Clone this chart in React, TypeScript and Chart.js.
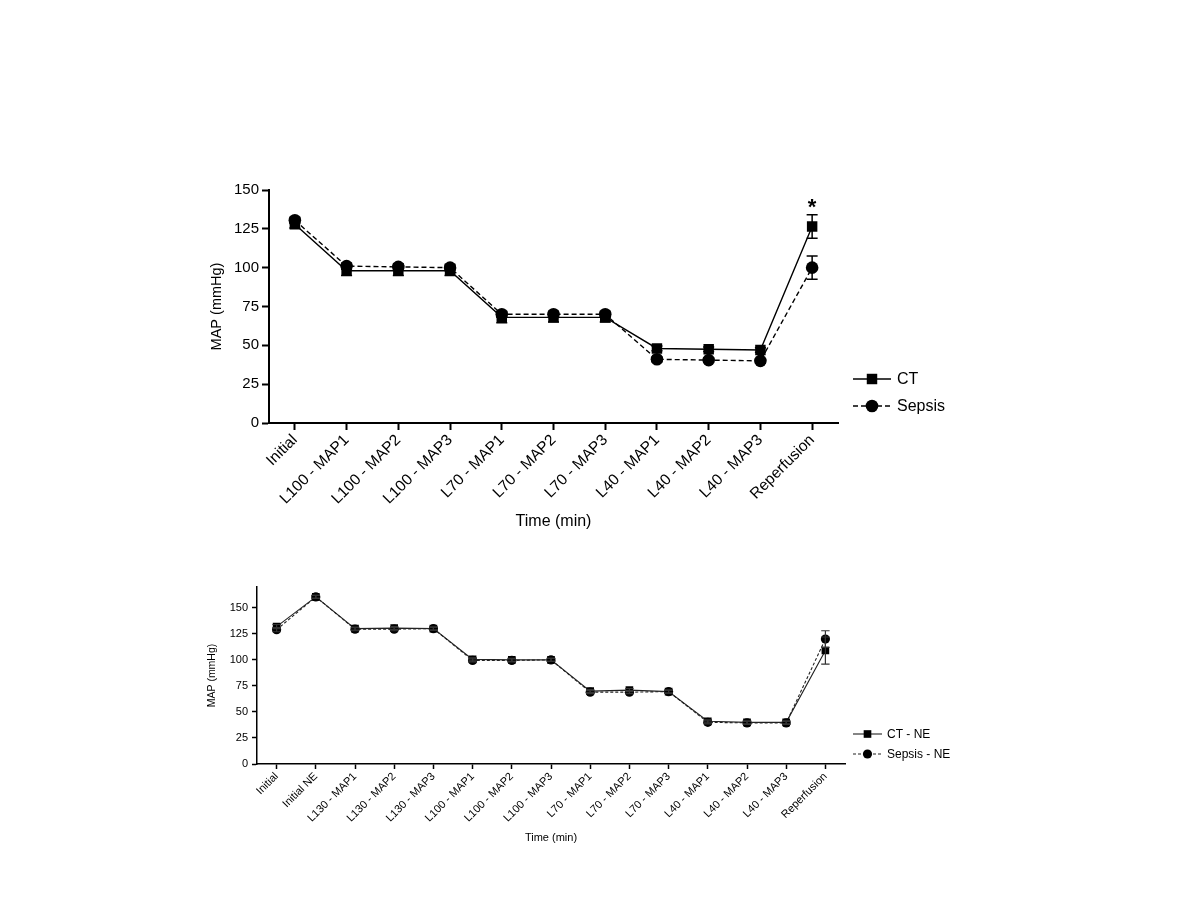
import React, { useEffect, useRef } from "react";
import { Chart, registerables } from "chart.js";

Chart.register(...registerables);

const FONT = "'Liberation Sans', Arial, Helvetica, sans-serif";

// ---------- Top chart data ----------
const topLabels = [
  "Initial",
  "L100 - MAP1",
  "L100 - MAP2",
  "L100 - MAP3",
  "L70 - MAP1",
  "L70 - MAP2",
  "L70 - MAP3",
  "L40 - MAP1",
  "L40 - MAP2",
  "L40 - MAP3",
  "Reperfusion",
];
const topCT = [128, 98, 98, 98, 68, 68, 68, 48, 47.5, 47, 126.5];
const topCTErr = [2.5, 3, 3, 3, 3.5, 3, 3, 1.5, 1.5, 1.5, 7.5];
const topSepsis = [130.5, 101, 100.5, 100, 70, 70, 70, 41, 40.5, 40, 100];
const topSepsisErr = [2, 2, 2, 2, 2, 2, 2, 1.5, 1.5, 1.5, 7.5];
const topCTMarks = ["", "", "", "", "", "", "", "", "", "", "*"];
const topYTicks = [0, 25, 50, 75, 100, 125, 150];

// ---------- Bottom chart data ----------
const bottomLabels = [
  "Initial",
  "Initial NE",
  "L130 - MAP1",
  "L130 - MAP2",
  "L130 - MAP3",
  "L100 - MAP1",
  "L100 - MAP2",
  "L100 - MAP3",
  "L70 - MAP1",
  "L70 - MAP2",
  "L70 - MAP3",
  "L40 - MAP1",
  "L40 - MAP2",
  "L40 - MAP3",
  "Reperfusion",
];
const bottomCT = [132, 160.5, 130, 130.5, 130, 100.5, 100, 100, 70, 71, 69.5, 41, 40, 40, 109];
const bottomCTErr = [2, 1.5, 1.5, 1.5, 1.5, 1.5, 1.5, 1.5, 1.5, 1.5, 1.5, 1.5, 1.5, 1.5, 13];
const bottomSepsis = [129, 160.5, 129.5, 129.5, 130, 99.5, 99.5, 100, 69, 69, 69.5, 40, 39.5, 39.5, 120];
const bottomSepsisErr = [2, 1.5, 1.5, 1.5, 1.5, 1.5, 1.5, 1.5, 1.5, 1.5, 1.5, 1.5, 1.5, 1.5, 8];
const bottomYTicks = [0, 25, 50, 75, 100, 125, 150];

// ---------- Plugins ----------
const errorBarPlugin = {
  id: "errorBars",
  afterDatasetsDraw(chart: any, _args: any, opts: any) {
    const { ctx } = chart;
    const yScale = chart.scales.y;
    chart.data.datasets.forEach((ds: any, i: number) => {
      if (!ds.errors) return;
      const meta = chart.getDatasetMeta(i);
      ctx.save();
      ctx.strokeStyle = ds.errorColor || "#000";
      ctx.lineWidth = opts.width || 1.5;
      ctx.setLineDash([]);
      meta.data.forEach((el: any, j: number) => {
        const v = ds.data[j];
        const e = ds.errors[j];
        if (v == null || !e) return;
        const x = el.x;
        const yT = yScale.getPixelForValue(v + e);
        const yB = yScale.getPixelForValue(v - e);
        const c = opts.cap || 5;
        ctx.beginPath();
        ctx.moveTo(x, yT);
        ctx.lineTo(x, yB);
        ctx.moveTo(x - c, yT);
        ctx.lineTo(x + c, yT);
        ctx.moveTo(x - c, yB);
        ctx.lineTo(x + c, yB);
        ctx.stroke();
      });
      if (ds.marks) {
        ctx.fillStyle = "#000";
        ctx.font = `bold ${opts.markSize || 20}px ${FONT}`;
        ctx.textAlign = "center";
        ctx.textBaseline = "alphabetic";
        meta.data.forEach((el: any, j: number) => {
          const m = ds.marks[j];
          if (!m) return;
          const yT = yScale.getPixelForValue(ds.data[j] + (ds.errors[j] || 0));
          ctx.fillText(m, el.x, yT + (opts.markOffset ?? 0));
        });
      }
      ctx.restore();
    });
  },
};

const customLegendPlugin = {
  id: "customLegend",
  afterDraw(chart: any, _args: any, opts: any) {
    if (!opts || !opts.rows) return;
    const { ctx, chartArea } = chart;
    ctx.save();
    chart.data.datasets.forEach((ds: any, i: number) => {
      const y = chartArea.bottom + opts.rows[i];
      const x0 = chartArea.right + opts.x;
      const x1 = x0 + opts.lineLen;
      ctx.strokeStyle = ds.borderColor;
      ctx.lineWidth = ds.borderWidth;
      ctx.setLineDash(ds.borderDash || []);
      ctx.beginPath();
      ctx.moveTo(x0, y);
      ctx.lineTo(x1, y);
      ctx.stroke();
      ctx.setLineDash([]);
      const cx = (x0 + x1) / 2;
      const r = ds.pointRadius;
      ctx.fillStyle = ds.pointBackgroundColor;
      ctx.beginPath();
      if (ds.pointStyle === "rect") {
        const s = Math.SQRT1_2 * r;
        ctx.rect(cx - s, y - s, 2 * s, 2 * s);
      } else {
        ctx.arc(cx, y, r, 0, Math.PI * 2);
      }
      ctx.fill();
      ctx.fillStyle = "#000";
      ctx.font = `${opts.fontSize}px ${FONT}`;
      ctx.textAlign = "left";
      ctx.textBaseline = "middle";
      ctx.fillText(ds.label, x1 + opts.textGap, y + 1);
    });
    ctx.restore();
  },
};

function axisCommon(tickLen: number, lw: number) {
  return {
    grid: {
      display: true,
      drawOnChartArea: false,
      drawTicks: true,
      tickLength: tickLen,
      tickColor: "#000",
      tickWidth: lw,
      color: "#000",
      offset: false,
    },
    border: { display: true, color: "#000", width: lw },
  };
}

function buildTop(): any {
  return {
    type: "line",
    data: {
      labels: topLabels,
      datasets: [
        {
          label: "CT",
          data: topCT,
          errors: topCTErr,
          marks: topCTMarks,
          borderColor: "#000",
          backgroundColor: "#000",
          borderWidth: 1.4,
          pointStyle: "rect",
          pointRadius: 7.4,
          pointBackgroundColor: "#000",
          pointBorderColor: "#000",
          pointBorderWidth: 0,
          tension: 0,
        },
        {
          label: "Sepsis",
          data: topSepsis,
          errors: topSepsisErr,
          borderColor: "#000",
          backgroundColor: "#000",
          borderWidth: 1.4,
          borderDash: [5, 3],
          pointStyle: "circle",
          pointRadius: 6.3,
          pointBackgroundColor: "#000",
          pointBorderColor: "#000",
          pointBorderWidth: 0,
          tension: 0,
        },
      ],
    },
    options: {
      responsive: false,
      animation: false,
      devicePixelRatio: 1,
      layout: { padding: { top: 40, right: 162, left: 0, bottom: 0 } },
      plugins: {
        legend: { display: false },
        tooltip: { enabled: false },
        errorBars: { cap: 5.5, width: 1.5, markSize: 22, markOffset: -1 },
        customLegend: { x: 15, lineLen: 38, textGap: 6, fontSize: 16, rows: [-44, -17] },
      },
      scales: {
        x: {
          type: "category",
          offset: true,
          afterFit: (s: any) => {
            s.height = 117;
          },
          ...axisCommon(7, 2),
          ticks: {
            color: "#000",
            font: { family: FONT, size: 15.5 },
            minRotation: 45,
            maxRotation: 45,
            autoSkip: false,
            padding: 1,
          },
          title: {
            display: true,
            text: "Time (min)",
            color: "#000",
            font: { family: FONT, size: 16 },
            padding: { top: 0, bottom: 9 },
          },
        },
        y: {
          min: 0,
          max: 150,
          afterFit: (s: any) => {
            s.width = 69;
          },
          afterBuildTicks: (s: any) => {
            s.ticks = topYTicks.map((v) => ({ value: v }));
          },
          ...axisCommon(7, 2),
          ticks: {
            color: "#000",
            font: { family: FONT, size: 15 },
            padding: 3,
          },
          title: {
            display: true,
            text: "MAP (mmHg)",
            color: "#000",
            font: { family: FONT, size: 14.5 },
            padding: { top: 8, bottom: 0 },
          },
        },
      },
    },
    plugins: [errorBarPlugin, customLegendPlugin],
  };
}

function buildBottom(): any {
  return {
    type: "line",
    data: {
      labels: bottomLabels,
      datasets: [
        {
          label: "CT - NE",
          data: bottomCT,
          errors: bottomCTErr,
          borderColor: "#222",
          backgroundColor: "#000",
          borderWidth: 1.1,
          pointStyle: "rect",
          pointRadius: 5.4,
          pointBackgroundColor: "#000",
          pointBorderColor: "#000",
          pointBorderWidth: 0,
          tension: 0,
          errorColor: "#333",
        },
        {
          label: "Sepsis - NE",
          data: bottomSepsis,
          errors: bottomSepsisErr,
          borderColor: "#222",
          backgroundColor: "#000",
          borderWidth: 1.1,
          borderDash: [3, 2],
          pointStyle: "circle",
          pointRadius: 4.6,
          pointBackgroundColor: "#000",
          pointBorderColor: "#000",
          pointBorderWidth: 0,
          tension: 0,
          errorColor: "#333",
        },
      ],
    },
    options: {
      responsive: false,
      animation: false,
      devicePixelRatio: 1,
      layout: { padding: { top: 27, right: 155, left: 0, bottom: 0 } },
      plugins: {
        legend: { display: false },
        tooltip: { enabled: false },
        errorBars: { cap: 4.2, width: 1.2 },
        customLegend: { x: 8, lineLen: 29, textGap: 5, fontSize: 12, rows: [-30, -10] },
      },
      scales: {
        x: {
          type: "category",
          offset: true,
          afterFit: (s: any) => {
            s.height = 86;
          },
          ...axisCommon(5, 1.5),
          ticks: {
            color: "#000",
            font: { family: FONT, size: 11 },
            minRotation: 45,
            maxRotation: 45,
            autoSkip: false,
            padding: 1,
          },
          title: {
            display: true,
            text: "Time (min)",
            color: "#000",
            font: { family: FONT, size: 11 },
            padding: { top: 0, bottom: 5 },
          },
        },
        y: {
          min: 0,
          max: 170,
          afterFit: (s: any) => {
            s.width = 62;
          },
          afterBuildTicks: (s: any) => {
            s.ticks = bottomYTicks.map((v) => ({ value: v }));
          },
          ...axisCommon(5, 1.5),
          ticks: {
            color: "#000",
            font: { family: FONT, size: 11 },
            padding: 4,
          },
          title: {
            display: true,
            text: "MAP (mmHg)",
            color: "#000",
            font: { family: FONT, size: 10.5 },
            padding: { top: 11, bottom: 0 },
          },
        },
      },
    },
    plugins: [errorBarPlugin, customLegendPlugin],
  };
}

function ChartCanvas(props: { build: () => any; left: number; top: number; width: number; height: number }) {
  const ref = useRef<HTMLCanvasElement | null>(null);
  useEffect(() => {
    if (!ref.current) return;
    const chart = new Chart(ref.current, props.build());
    return () => chart.destroy();
  }, []);
  return (
    <canvas
      ref={ref}
      width={props.width}
      height={props.height}
      style={{
        position: "absolute",
        left: props.left,
        top: props.top,
        width: props.width,
        height: props.height,
      }}
    />
  );
}

export default function App() {
  return (
    <div
      style={{
        position: "fixed",
        left: 0,
        top: 0,
        width: 1200,
        height: 900,
        background: "#fff",
        overflow: "hidden",
      }}
    >
      <ChartCanvas build={buildTop} left={200} top={150} width={800} height={390} />
      <ChartCanvas build={buildBottom} left={195} top={560} width={805} height={290} />
    </div>
  );
}
